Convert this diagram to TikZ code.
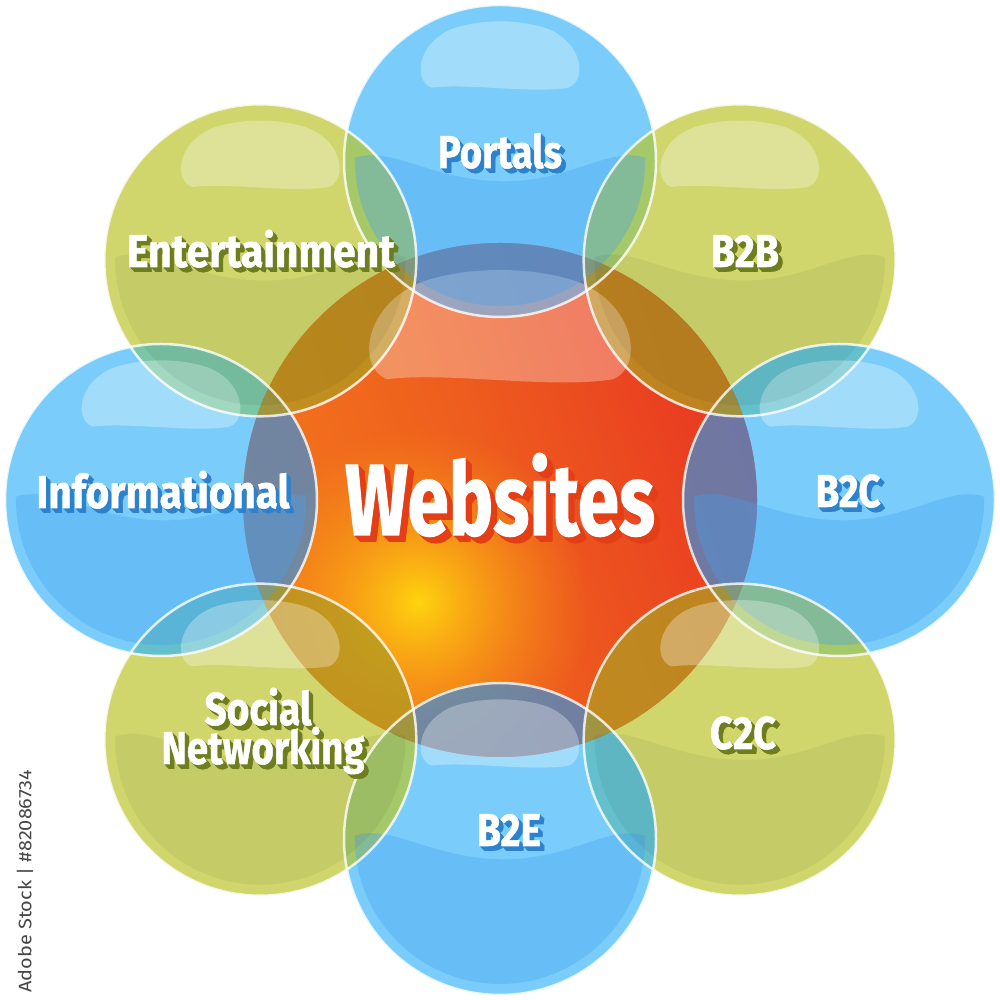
\documentclass[tikz,border=0pt]{standalone}
\usepackage{fontspec}
\newfontfamily\labfont{Fira Sans}[BoldFeatures={FakeBold=1.2}]
\newfontfamily\wmfont{Fira Sans}
\usetikzlibrary{calc,fadings}

\definecolor{bluC}{RGB}{122,205,250}
\definecolor{bluLow}{RGB}{70,160,238}
\definecolor{bluD}{RGB}{72,140,205}
\definecolor{grnC}{RGB}{208,214,108}
\definecolor{grnD}{RGB}{177,155,33}
\definecolor{lensG}{RGB}{165,200,105}
\definecolor{lensT}{RGB}{100,192,205}
\definecolor{lensTG}{RGB}{122,198,165}
\definecolor{cY}{RGB}{255,212,15}
\definecolor{cSpotOut}{RGB}{247,150,22}
\definecolor{cL0}{RGB}{245,138,25}
\definecolor{cL1}{RGB}{242,115,28}
\definecolor{cL2}{RGB}{238,92,30}
\definecolor{cL3}{RGB}{233,62,33}
\definecolor{cR}{RGB}{228,38,36}
\definecolor{shB}{RGB}{45,130,205}
\definecolor{shG}{RGB}{110,125,30}
\definecolor{shR}{RGB}{228,62,22}
\definecolor{wmgray}{RGB}{70,70,70}

\pgfdeclarehorizontalshading{ctrlin}{100bp}{color(0bp)=(cL0); color(30bp)=(cL1); color(50bp)=(cL2); color(70bp)=(cL3); color(86bp)=(cR); color(100bp)=(cR)}
\tikzfading[name=spotfade, inner color=transparent!0, outer color=transparent!100]

\newsavebox\lblbox
\newcommand\fitto[2]{\sbox\lblbox{#2}\pgfmathsetmacro\lblsx{#1/\the\wd\lblbox}\scalebox{\lblsx}[1]{\usebox\lblbox}}

\def\blobpath{(-0.44,0.47) .. controls (-0.56,0.52) and (-0.53,0.76) .. (-0.3,0.85) .. controls (-0.12,0.91) and (0.12,0.91) .. (0.3,0.85) .. controls (0.53,0.76) and (0.56,0.52) .. (0.44,0.47) .. controls (0.2,0.43) and (-0.2,0.5) .. (-0.44,0.47) -- cycle}
\def\wavepath{(-0.93,0.02) .. controls (-0.7,0.1) and (-0.45,-0.12) .. (0,-0.13) .. controls (0.45,-0.14) and (0.7,0.1) .. (0.93,0.02) arc[start angle=1.2, end angle=-181.2, radius=0.93] -- cycle}

\tikzset{
  lblstyle/.style={anchor=base, inner sep=0pt, outer sep=0pt},
  rim/.style={draw=white, draw opacity=0.8, line width=2.5pt}
}

% name, x, y, width, size, shadow colour, steps, text
\newcommand\lbl[8]{%
  \foreach \k in {#7,...,1}
    \node[lblstyle, text=#6, font=\labfont\bfseries\fontsize{#5}{#5}\selectfont] (#1-s\k) at (#2+0.9*\k, #3-0.9*\k) {\fitto{#4}{#8}};
  \node[lblstyle, text=white, font=\labfont\bfseries\fontsize{#5}{#5}\selectfont] (#1) at (#2,#3) {\fitto{#4}{#8}};
}

\begin{document}
\begin{tikzpicture}[x=1pt,y=1pt]
\useasboundingbox (0,0) rectangle (1000,1000);
\fill[white] (0,0) rectangle (1000,1000);

\coordinate (ctr) at (500,500);
\coordinate (spot) at (418,398);
\foreach \n/\x/\y in {portals/500/839, b2b/739.7/739.7, b2c/839/500, c2c/739.7/260.3, b2e/500/161, social/260.3/260.3, info/161/500, ent/260.3/739.7}
  \coordinate (\n-c) at (\x,\y);

% outer circles
\foreach \n/\c in {portals/bluC, b2c/bluC, b2e/bluC, info/bluC, b2b/grnC, c2c/grnC, social/grnC, ent/grnC}
  \fill[\c] (\n-c) circle (156);

% lenses between neighbours
\foreach \a/\b/\lc in {portals/b2b/lensG, b2b/b2c/lensT, b2c/c2c/lensG, c2c/b2e/lensT, b2e/social/lensG, social/info/lensT, info/ent/lensTG, ent/portals/lensG}
{
  \begin{scope}
    \clip (\a-c) circle (156);
    \fill[\lc] (\b-c) circle (156);
  \end{scope}
}

% centre
\shade[shading=ctrlin, shading angle=18] (ctr) circle (257);
\begin{scope}
  \clip (ctr) circle (257);
  \shade[inner color=cY, outer color=cSpotOut, path fading=spotfade] (spot) circle (175);
\end{scope}

% overlaps with centre
\begin{scope}
  \clip (ctr) circle (257);
  \foreach \n in {portals, b2c, b2e, info}
    \fill[bluD, fill opacity=0.75] (\n-c) circle (156);
  \foreach \n in {b2b, c2c, social, ent}
    \fill[grnD, fill opacity=0.75] (\n-c) circle (156);
\end{scope}

% centre highlight
\begin{scope}[shift={(500,500)}, scale=257]
  \fill[white, fill opacity=0.3] \blobpath;
\end{scope}

% inner structure of outer circles
\foreach \x/\y/\lowc/\lowo in {500/839/bluLow/0.35, 839/500/bluLow/0.35, 500/161/bluLow/0.35, 161/500/bluLow/0.35, 739.7/739.7/black/0.05, 739.7/260.3/black/0.05, 260.3/260.3/black/0.05, 260.3/739.7/black/0.05}
{
  \begin{scope}[shift={(\x,\y)}, scale=156]
    \fill[\lowc, fill opacity=\lowo] \wavepath;
    \fill[white, fill opacity=0.3] \blobpath;
  \end{scope}
}

% rims
\foreach \n in {portals, b2b, b2c, c2c, b2e, social, info, ent}
  \draw[rim] (\n-c) circle (156);

% labels
\lbl{websites}{500}{465}{310}{101}{shR}{7}{Websites}
\lbl{portals}{500}{832}{124}{46}{shB}{5}{Portals}
\lbl{b2b}{745}{733}{68}{46}{shG}{5}{B2B}
\lbl{b2c}{848}{493}{65}{46}{shB}{5}{B2C}
\lbl{c2c}{743}{251}{66}{46}{shG}{5}{C2C}
\lbl{b2e}{509}{154}{64}{46}{shB}{5}{B2E}
\lbl{informational}{163}{492}{253}{46}{shB}{5}{Informational}
\lbl{entertainment}{261}{733}{268}{46}{shG}{5}{Entertainment}
\lbl{social}{258}{275}{107}{46}{shG}{5}{Social}
\lbl{networking}{263}{236}{203}{46}{shG}{5}{Networking}

% stock id
\node[rotate=90, anchor=west, inner sep=0pt, text=wmgray, font=\wmfont\fontsize{18}{18}\selectfont] (stockid) at (25,7) {\fitto{223}{Adobe Stock | \#82086734}};
\end{tikzpicture}
\end{document}
